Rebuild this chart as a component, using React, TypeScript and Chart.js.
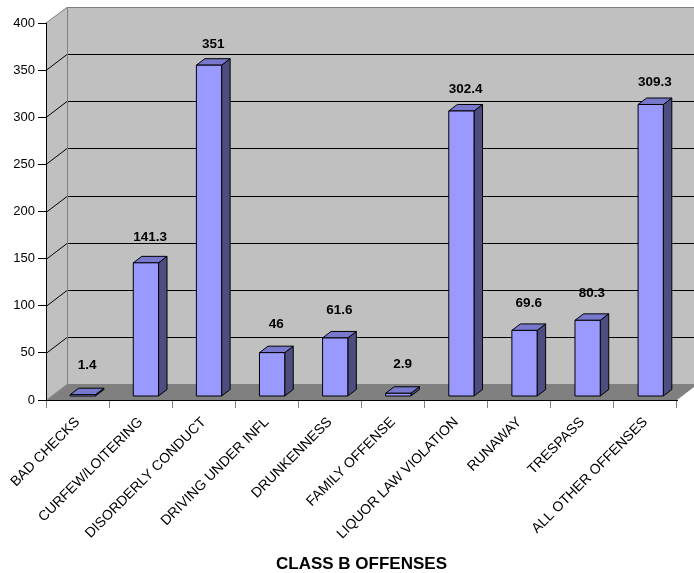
import React, { useEffect, useRef } from "react";
import { Chart, registerables } from "chart.js";

Chart.register(...registerables);

// Class B offense counts
const CATEGORIES: string[] = [
  "BAD CHECKS",
  "CURFEW/LOITERING",
  "DISORDERLY CONDUCT",
  "DRIVING UNDER INFL",
  "DRUNKENNESS",
  "FAMILY OFFENSE",
  "LIQUOR LAW VIOLATION",
  "RUNAWAY",
  "TRESPASS",
  "ALL OTHER OFFENSES",
];
const VALUES: number[] = [1.4, 141.3, 351, 46, 61.6, 2.9, 302.4, 69.6, 80.3, 309.3];
const VALUE_LABELS: string[] = ["1.4", "141.3", "351", "46", "61.6", "2.9", "302.4", "69.6", "80.3", "309.3"];
const Y_MIN = 0;
const Y_MAX = 400;
const Y_STEP = 50;
const AXIS_TITLE = "CLASS B OFFENSES";

const FONT = "'Liberation Sans', Arial, Helvetica, sans-serif";

// 3D projection of the plot box: the back wall sits DEPTH_X right / DEPTH_Y up from the front plane
const DEPTH_X = 21;
const DEPTH_Y = -16;
// bar front and back faces as fractions of the box depth
const BAR_FRONT = 0.25;
const BAR_BACK = 0.655;
const BAR_WIDTH_FRAC = 0.4;

const WALL = "#C0C0C0";
const FLOOR = "#808080";
const EDGE = "#808080";
const BAR_FRONT_COLOR = "#9999FF";
const BAR_TOP_COLOR = "#7878CC";
const BAR_SIDE_COLOR = "#4D4D80";

const poly = (ctx: CanvasRenderingContext2D, pts: number[][], fill?: string, stroke?: string) => {
  ctx.beginPath();
  ctx.moveTo(pts[0][0], pts[0][1]);
  for (let i = 1; i < pts.length; i++) ctx.lineTo(pts[i][0], pts[i][1]);
  ctx.closePath();
  if (fill) {
    ctx.fillStyle = fill;
    ctx.fill();
  }
  if (stroke) {
    ctx.strokeStyle = stroke;
    ctx.lineWidth = 1;
    ctx.stroke();
  }
};

const line = (ctx: CanvasRenderingContext2D, x1: number, y1: number, x2: number, y2: number, color: string) => {
  ctx.beginPath();
  ctx.moveTo(x1, y1);
  ctx.lineTo(x2, y2);
  ctx.strokeStyle = color;
  ctx.lineWidth = 1;
  ctx.stroke();
};

// walls, floor and back gridlines, drawn before the axes
const wallsPlugin = {
  id: "walls3d",
  beforeDraw(chart: any) {
    const { ctx } = chart;
    const x = chart.scales.x;
    const y = chart.scales.y;
    const L = x.left;
    const R = x.right;
    const T = y.getPixelForValue(Y_MAX);
    const B = y.getPixelForValue(Y_MIN);
    ctx.save();
    // back wall
    poly(ctx, [
      [L + DEPTH_X, T + DEPTH_Y],
      [R + DEPTH_X, T + DEPTH_Y],
      [R + DEPTH_X, B + DEPTH_Y],
      [L + DEPTH_X, B + DEPTH_Y],
    ], WALL);
    // left side wall
    poly(ctx, [
      [L, T],
      [L + DEPTH_X, T + DEPTH_Y],
      [L + DEPTH_X, B + DEPTH_Y],
      [L, B],
    ], WALL);
    // floor
    poly(ctx, [
      [L, B],
      [L + DEPTH_X, B + DEPTH_Y],
      [R + DEPTH_X, B + DEPTH_Y],
      [R, B],
    ], FLOOR);
    line(ctx, L, B, L + DEPTH_X, B + DEPTH_Y, "#A0A0A0");
    // gridlines across the back and side walls
    for (let v = Y_MIN + Y_STEP; v < Y_MAX; v += Y_STEP) {
      const py = Math.round(y.getPixelForValue(v)) + 0.5;
      line(ctx, L + DEPTH_X, py + DEPTH_Y, R + DEPTH_X, py + DEPTH_Y, "#000");
      line(ctx, L, py, L + DEPTH_X, py + DEPTH_Y, "#000");
    }
    // wall edges
    const ty = Math.round(T + DEPTH_Y) + 0.5;
    line(ctx, L + DEPTH_X, ty, R + DEPTH_X + 2, ty, EDGE);
    line(ctx, L, T, L + DEPTH_X, ty, EDGE);
    line(ctx, Math.round(L + DEPTH_X) + 0.5, ty, Math.round(L + DEPTH_X) + 0.5, B + DEPTH_Y, EDGE);
    ctx.restore();
  },
  afterDatasetsDraw(chart: any) {
    const { ctx } = chart;
    const x = chart.scales.x;
    const y = chart.scales.y;
    const catW = (x.right - x.left) / CATEGORIES.length;
    const halfW = (catW * BAR_WIDTH_FRAC) / 2;
    const fx = DEPTH_X * BAR_FRONT;
    const fy = DEPTH_Y * BAR_FRONT;
    const ddx = DEPTH_X * (BAR_BACK - BAR_FRONT);
    const ddy = DEPTH_Y * (BAR_BACK - BAR_FRONT);
    const base = y.getPixelForValue(Y_MIN);
    ctx.save();
    ctx.lineJoin = "round";
    VALUES.forEach((v, i) => {
      const cx = x.getPixelForValue(i) + fx;
      const top = y.getPixelForValue(v) + fy;
      const bot = base + fy;
      const l = cx - halfW;
      const r = cx + halfW;
      // side face
      poly(ctx, [[r, top], [r + ddx, top + ddy], [r + ddx, bot + ddy], [r, bot]], BAR_SIDE_COLOR, "#000");
      // top face
      poly(ctx, [[l, top], [l + ddx, top + ddy], [r + ddx, top + ddy], [r, top]], BAR_TOP_COLOR, "#000");
      // front face
      poly(ctx, [[l, top], [r, top], [r, bot], [l, bot]], BAR_FRONT_COLOR, "#000");
    });
    // value labels above each bar; the gap narrows a little as bars get taller
    ctx.fillStyle = "#000";
    ctx.font = `bold 13.5px ${FONT}`;
    ctx.textAlign = "center";
    ctx.textBaseline = "middle";
    VALUES.forEach((v, i) => {
      const cx = x.getPixelForValue(i) + fx + ddx / 2;
      const gap = 33 - (8 * v) / 351;
      ctx.fillText(VALUE_LABELS[i], cx, y.getPixelForValue(v) - gap);
    });
    ctx.restore();
  },
};

export default function App() {
  const canvasRef = useRef<HTMLCanvasElement | null>(null);

  useEffect(() => {
    document.body.style.margin = "0";
    const canvas = canvasRef.current;
    if (!canvas) return;
    const chart = new Chart(canvas, {
      type: "bar",
      data: {
        labels: CATEGORIES,
        datasets: [
          {
            label: AXIS_TITLE,
            data: VALUES,
            backgroundColor: "rgba(0,0,0,0)",
            borderWidth: 0,
          },
        ],
      },
      plugins: [wallsPlugin],
      options: {
        responsive: false,
        animation: false,
        devicePixelRatio: 1,
        layout: { padding: { top: 23, right: 17, left: 0, bottom: -2 } },
        plugins: {
          legend: { display: false },
          tooltip: { enabled: false },
        },
        scales: {
          y: {
            min: Y_MIN,
            max: Y_MAX,
            ticks: {
              stepSize: Y_STEP,
              color: "#000",
              font: { family: FONT, size: 13 },
              padding: 3,
            },
            grid: { drawOnChartArea: false, drawTicks: true, tickLength: 8, color: "#000" },
            border: { display: true, color: "#000" },
            afterFit(scale: any) {
              scale.width = 46;
            },
          },
          x: {
            offset: true,
            ticks: {
              color: "#000",
              font: { family: FONT, size: 14 },
              minRotation: 45,
              maxRotation: 45,
              autoSkip: false,
              padding: 6,
            },
            grid: { offset: true, drawOnChartArea: false, drawTicks: true, tickLength: 8, color: "#808080" },
            border: { display: true, color: "#000" },
            title: {
              display: true,
              text: AXIS_TITLE,
              color: "#000",
              font: { family: FONT, size: 17, weight: "bold" },
              padding: { top: 0, bottom: 0 },
            },
            afterFit(scale: any) {
              scale.height = 175;
            },
          },
        },
      },
    });
    return () => chart.destroy();
  }, []);

  return (
    <div style={{ width: 694, height: 573, background: "#fff" }}>
      <canvas ref={canvasRef} width={694} height={573} style={{ display: "block" }} />
    </div>
  );
}
